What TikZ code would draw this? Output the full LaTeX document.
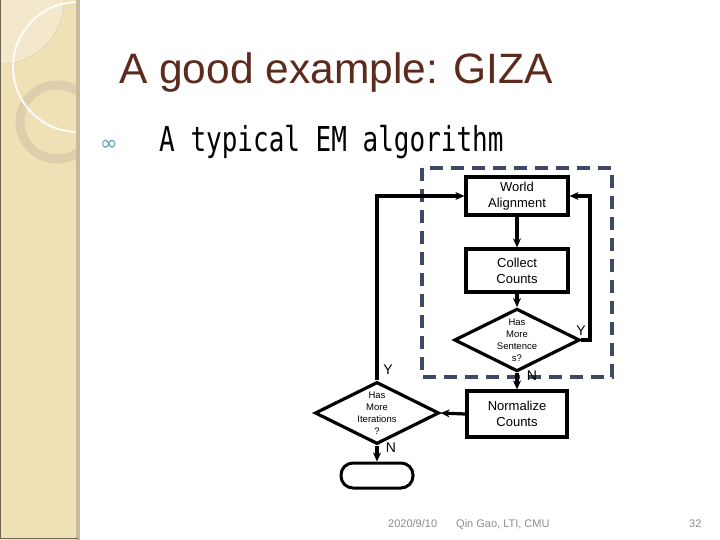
\documentclass[tikz,border=0pt]{standalone}
\usepackage{fontspec}
\setmainfont{Liberation Sans}
\newfontfamily\monofnt{DejaVu Sans Mono}
\newfontfamily\symfnt{DejaVu Sans}
\usetikzlibrary{arrows.meta,shapes.geometric,calc}
\definecolor{panel}{HTML}{F0E0B6}
\definecolor{panellight}{HTML}{F4E8CC}
\definecolor{paneledge}{HTML}{C8BB9C}
\definecolor{ringcol}{HTML}{DDCFAC}
\definecolor{titlecol}{HTML}{5B2C1E}
\definecolor{dashcol}{HTML}{3D4A66}
\definecolor{footcol}{HTML}{8C8C8C}
\definecolor{bulletcol}{HTML}{5FA3A8}
\tikzset{
  flowbox/.style={draw=black,line width=3.2pt,minimum width=102pt,minimum height=38pt,align=center,font=\fontsize{13}{16}\selectfont,inner sep=0pt},
  decision/.style={draw=black,line width=3.2pt,diamond,minimum width=114pt,minimum height=56pt,aspect=2,align=center,font=\fontsize{9.5}{12}\selectfont,inner sep=0pt},
  terminal/.style={draw=black,line width=3pt,rounded corners=12pt,minimum width=72pt,minimum height=25pt,inner sep=0pt},
  flow/.style={line width=3.2pt,-{Stealth[length=9pt,width=8pt]}},
  lab/.style={font=\fontsize{14}{14}\selectfont,inner sep=0pt},
  foot/.style={font=\fontsize{11}{11}\selectfont,text=footcol,inner sep=0pt,anchor=base west}
}
\begin{document}
\begin{tikzpicture}[x=1pt,y=-1pt]
\useasboundingbox (0,0) rectangle (720,540);
\fill[white] (0,0) rectangle (720,540);
% left panel
\begin{scope}
\clip (0,0) rectangle (78,540);
\fill[panel] (0,0) rectangle (78,540);
\fill[panellight] (0,0) circle (64);
\draw[panel!80!black,line width=0.4pt,opacity=0.5] (0,0) circle (64);
\draw[ringcol,line width=9pt] (57,122) circle (37);
\draw[white,line width=2pt,opacity=0.9] (78,67) circle (65);
\end{scope}
\fill[paneledge] (76,0) rectangle (80,540);
\draw[black!55!panel,line width=1pt] (0.5,0) -- (0.5,538.5) -- (78,538.5);
% title
\node[anchor=base west,inner sep=0pt,text=titlecol,font=\fontsize{42.5}{44}\selectfont] (title) at (119,84) {A good example: GIZA};
\node[anchor=base west,inner sep=0pt,text=bulletcol,font=\symfnt\fontsize{21}{21}\selectfont] (bul) at (100,151) {∞};
\node[anchor=base west,inner sep=0pt,font=\monofnt\fontsize{26}{26}\selectfont] (sub) at (159,152) {\scalebox{1}[1.32]{A typical EM algorithm}};
% dashed box
\draw[dashcol,line width=4pt,dash pattern=on 13pt off 8pt] (422,168) rectangle (612,377);
% nodes
\node[flowbox] (wa) at (517,196) {World\\Alignment};
\node[flowbox,minimum height=43pt] (cc) at (517,270.5) {Collect\\Counts};
\node[decision] (hs) at (517,340) {Has\\More\\Sentence\\s?};
\node[flowbox,minimum width=100pt,minimum height=46pt] (nc) at (517,414) {Normalize\\Counts};
\node[decision] (hi) at (377,413) {Has\\More\\Iterations\\?};
\node[terminal] (end) at (377,475.5) {};
\coordinate (ry) at (590,340);
\coordinate (ly) at (377,196);
% connectors
\draw[flow] (wa) -- (cc);
\draw[flow] (cc) -- (hs.north);
\draw[flow] (hs.east) -- (ry) |- (wa.east);
\draw[flow] (hs.south) -- (nc.north);
\draw[flow] (nc.west) -- (hi.east);
\draw[flow] (hi.north) -- (ly) -- (wa.west);
\draw[flow] (hi.south) -- (end.north);
% labels
\node[lab] (ly1) at (581,331) {Y};
\node[lab] (ln1) at (532,376) {N};
\node[lab] (ly2) at (388,370) {Y};
\node[lab] (ln2) at (391,448) {N};
% footer
\node[foot] (date) at (388,527) {2020/9/10};
\node[foot] (auth) at (456,527) {Qin Gao, LTI, CMU};
\node[foot] (page) at (689,527) {32};
\end{tikzpicture}
\end{document}
